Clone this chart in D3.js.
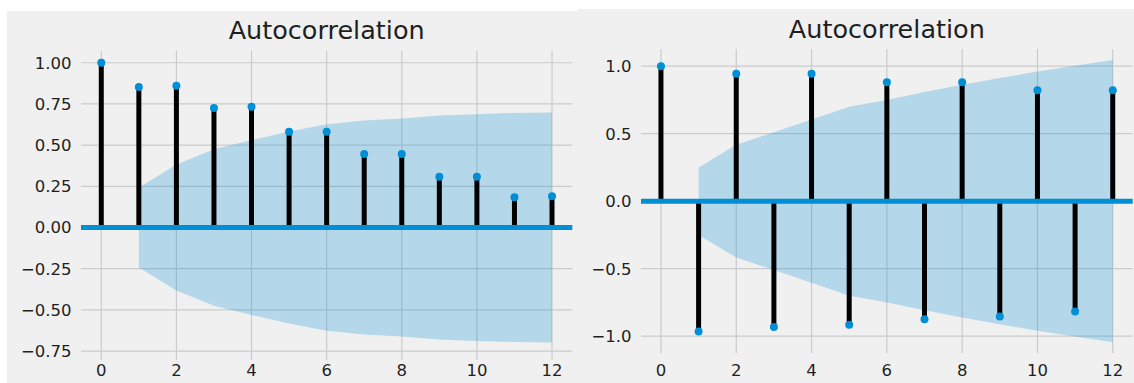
<!DOCTYPE html>
<html>
<head>
<meta charset="utf-8">
<script src="https://cdn.jsdelivr.net/npm/d3@7"></script>
<style>
  html, body { margin: 0; padding: 0; background: #ffffff; }
  svg { display: block; }
  text { font-family: "DejaVu Sans", sans-serif; fill: #1f1f1f; }
</style>
</head>
<body>
<svg id="chart" width="1134" height="383"></svg>
<script>
// Lags shown on both correlograms
const lags = [0, 1, 2, 3, 4, 5, 6, 7, 8, 9, 10, 11, 12];

// Left series: slowly decaying autocorrelation
const acfLeft = [1.00, 0.853, 0.860, 0.725, 0.733, 0.581, 0.581, 0.446, 0.446, 0.308, 0.308, 0.183, 0.189];
// Half-width of the confidence band for lags 1..12
const confLeft = [0.242, 0.382, 0.475, 0.531, 0.583, 0.627, 0.650, 0.662, 0.680, 0.688, 0.695, 0.698];

// Right series: alternating-sign autocorrelation
const acfRight = [1.00, -0.966, 0.943, -0.933, 0.943, -0.916, 0.881, -0.874, 0.881, -0.855, 0.822, -0.818, 0.822];
const confRight = [0.250, 0.418, 0.510, 0.605, 0.700, 0.750, 0.808, 0.862, 0.912, 0.960, 1.003, 1.045];

// Tick labels
const xTicks = [0, 2, 4, 6, 8, 10, 12];
const yTicksLeft = [1.00, 0.75, 0.50, 0.25, 0.00, -0.25, -0.50, -0.75];
const yTicksRight = [1.0, 0.5, 0.0, -0.5, -1.0];

const titleText = "Autocorrelation";

const svg = d3.select("#chart");

function fmt(decimals) {
  return v => (v < 0 ? "\u2212" : "") + Math.abs(v).toFixed(decimals);
}

function drawPanel(cfg) {
  const g = svg.append("g");

  // figure background
  g.append("rect")
    .attr("x", cfg.bg[0]).attr("y", cfg.bg[1])
    .attr("width", cfg.bg[2]).attr("height", cfg.bg[3])
    .attr("fill", "#f0f0f0");

  const x = d3.scaleLinear().domain(cfg.xDomain).range(cfg.xRange);
  const y = d3.scaleLinear().domain(cfg.yDomain).range(cfg.yRange);

  // grid
  const grid = g.append("g").attr("stroke", "#cbcbcb").attr("stroke-width", 1.2);
  grid.selectAll("line.gx").data(xTicks).join("line")
    .attr("x1", d => x(d)).attr("x2", d => x(d))
    .attr("y1", cfg.yRange[1]).attr("y2", cfg.yRange[0]);
  grid.selectAll("line.gy").data(cfg.yTicks).join("line")
    .attr("x1", cfg.xRange[0]).attr("x2", cfg.xRange[1])
    .attr("y1", d => y(d)).attr("y2", d => y(d));

  // confidence band (lags 1..12), translucent over the grid
  const bandData = cfg.conf.map((c, i) => ({ lag: lags[i + 1], c }));
  const area = d3.area()
    .x(d => x(d.lag))
    .y0(d => y(-d.c))
    .y1(d => y(d.c));
  g.append("path").datum(bandData)
    .attr("d", area)
    .attr("fill", "#008fd5")
    .attr("fill-opacity", 0.25);

  // stems
  g.append("g").selectAll("line").data(lags).join("line")
    .attr("x1", d => x(d)).attr("x2", d => x(d))
    .attr("y1", y(0)).attr("y2", (d, i) => y(cfg.acf[i]))
    .attr("stroke", "#000").attr("stroke-width", 5);

  // zero line
  g.append("line")
    .attr("x1", cfg.xRange[0]).attr("x2", cfg.xRange[1])
    .attr("y1", y(0)).attr("y2", y(0))
    .attr("stroke", "#008fd5").attr("stroke-width", 5);

  // markers
  g.append("g").selectAll("circle").data(lags).join("circle")
    .attr("cx", d => x(d)).attr("cy", (d, i) => y(cfg.acf[i]))
    .attr("r", 4)
    .attr("fill", "#008fd5");

  // y tick labels
  g.append("g").selectAll("text").data(cfg.yTicks).join("text")
    .attr("x", cfg.xRange[0] - 9.5)
    .attr("y", d => y(d))
    .attr("dy", "0.36em")
    .attr("text-anchor", "end")
    .attr("font-size", 16.5)
    .text(fmt(cfg.decimals));

  // x tick labels
  g.append("g").selectAll("text").data(xTicks).join("text")
    .attr("x", d => x(d))
    .attr("y", 375.5)
    .attr("text-anchor", "middle")
    .attr("font-size", 16.5)
    .text(d => d);

  // title
  g.append("text")
    .attr("x", (cfg.xRange[0] + cfg.xRange[1]) / 2)
    .attr("y", cfg.titleY)
    .attr("text-anchor", "middle")
    .attr("font-size", 25.5)
    .text(titleText);
}

drawPanel({
  bg: [7, 11, 571, 372],
  xDomain: [-0.54, 12.54], xRange: [81, 572.3],
  yDomain: [1.073, -0.804], yRange: [50.7, 360],
  yTicks: yTicksLeft, decimals: 2,
  acf: acfLeft, conf: confLeft,
  titleY: 39.3
});

drawPanel({
  bg: [578, 9, 556, 374],
  xDomain: [-0.53, 12.53], xRange: [641, 1132.7],
  yDomain: [1.127, -1.127], yRange: [49, 353.3],
  yTicks: yTicksRight, decimals: 1,
  acf: acfRight, conf: confRight,
  titleY: 38.3
});
</script>
</body>
</html>
